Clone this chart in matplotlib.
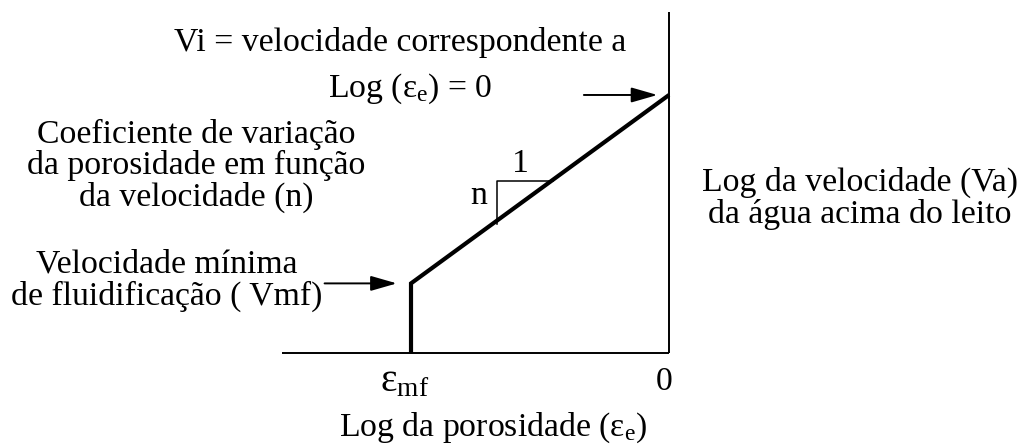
import matplotlib
matplotlib.use("Agg")
import matplotlib.pyplot as plt

plt.rcParams["font.family"] = ["Liberation Serif", "DejaVu Serif"]
plt.rcParams["mathtext.fontset"] = "custom"
plt.rcParams["mathtext.rm"] = "Liberation Serif"
plt.rcParams["mathtext.it"] = "Liberation Serif:italic"

# schematic values: log porosity (x) vs log water velocity (y)
log_eps_mf = -1.0
log_eps_max = 0.0
log_v_mf = 0.27
log_v_i = 1.0
x_axis_start = -1.5
y_axis_top = 1.32

# slope triangle ("n" over "1")
tri_x = [-0.665, -0.665, -0.45]
tri_y_top = 0.667
tri_y_bottom = 0.50

fs = 24.3

fig = plt.figure(figsize=(10.23, 4.46), dpi=100)
ax = fig.add_axes([0, 0, 1, 1])
ax.set_xlim(-2.593, 1.372)
ax.set_ylim(-0.360, 1.368)
ax.axis("off")

# axes of the diagram
ax.plot([x_axis_start, log_eps_max], [0, 0], color="black", lw=1.4, solid_capstyle="butt")
ax.plot([log_eps_max, log_eps_max], [0, y_axis_top], color="black", lw=1.4, solid_capstyle="butt")

# curve: vertical rise at eps_mf, then the straight log-log line
ax.plot([log_eps_mf, log_eps_mf, log_eps_max], [0, log_v_mf, log_v_i],
        color="black", lw=3.0, solid_joinstyle="miter", solid_capstyle="butt")

# slope triangle
ax.plot([tri_x[0], tri_x[1], tri_x[2]], [tri_y_bottom, tri_y_top, tri_y_top],
        color="black", lw=1.1)
ax.text(tri_x[0] - 0.04, 0.61, "n", fontsize=fs, ha="right", va="center")
ax.text(-0.575, 0.735, "1", fontsize=fs, ha="center", va="center")

# arrows
arrow = dict(arrowstyle="-|>,head_length=0.8,head_width=0.23", color="black", lw=1.4,
             shrinkA=0, shrinkB=0, mutation_scale=20)
ax.annotate("", xy=(log_eps_max - 0.045, log_v_i), xytext=(log_eps_max - 0.33, log_v_i),
            arrowprops=arrow)
ax.annotate("", xy=(log_eps_mf - 0.055, log_v_mf), xytext=(log_eps_mf - 0.335, log_v_mf),
            arrowprops=arrow)

# annotations
ax.text(-1.043, 1.205, "Vi = velocidade correspondente a", fontsize=fs, ha="center", va="center")
ax.text(-1.004, 1.025, r"Log (ε$_\mathrm{e}$) = 0", fontsize=fs, ha="center", va="center")
ax.text(-1.833, 0.725, "Coeficiente de variação\nda porosidade em função\nda velocidade (n)",
        fontsize=fs, ha="center", va="center", linespacing=1.02)
ax.text(-1.946, 0.28, "Velocidade mínima\nde fluidificação ( Vmf)",
        fontsize=fs, ha="center", va="center", linespacing=1.05)
ax.text(0.74, 0.60, "Log da velocidade (Va)\nda água acima do leito",
        fontsize=fs, ha="center", va="center", linespacing=1.05)

# tick labels and x label
ax.text(log_eps_mf - 0.023, -0.11, r"ε$_\mathrm{mf}$", fontsize=fs + 4, ha="center", va="center")
ax.text(log_eps_max - 0.02, -0.11, "0", fontsize=fs, ha="center", va="center")
ax.text(-0.682, -0.29, r"Log da porosidade (ε$_\mathrm{e}$)", fontsize=fs, ha="center", va="center")

fig.savefig("out.png", dpi=100)
